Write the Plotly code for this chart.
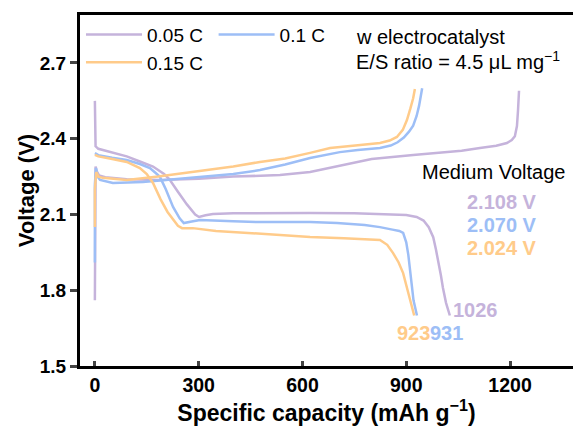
import plotly.graph_objects as go

# ---- data ----
rates = ["0.05 C", "0.1 C", "0.15 C"]
colors = ["#C5B3DB", "#9DBEF6", "#FFCB8A"]

dis_005_x = [0, 0, 2, 10, 40, 92, 130, 168, 200, 215, 240, 266, 290, 301, 320, 341, 400, 500, 622, 750, 850, 900, 930, 950, 965, 978, 986, 992, 1000, 1006, 1015, 1026]
dis_005_v = [2.55, 2.40, 2.37, 2.36, 2.35, 2.33, 2.31, 2.29, 2.26, 2.24, 2.19, 2.14, 2.10, 2.09, 2.097, 2.102, 2.105, 2.106, 2.106, 2.105, 2.102, 2.098, 2.09, 2.076, 2.05, 2.01, 1.96, 1.92, 1.86, 1.81, 1.75, 1.70]
chg_005_x = [0, 0, 2, 6, 12, 30, 92, 188, 300, 400, 535, 622, 728, 800, 920, 997, 1060, 1113, 1160, 1191, 1205, 1214, 1220, 1223, 1226]
chg_005_v = [1.76, 2.20, 2.29, 2.27, 2.255, 2.248, 2.24, 2.237, 2.242, 2.25, 2.256, 2.268, 2.30, 2.32, 2.336, 2.344, 2.352, 2.363, 2.372, 2.383, 2.395, 2.41, 2.45, 2.51, 2.59]

dis_01_x = [0, 10, 50, 92, 130, 159, 175, 188, 205, 226, 245, 257, 280, 304, 400, 477, 622, 700, 780, 824, 860, 880, 891, 900, 906, 911, 916, 921, 927, 931]
dis_01_v = [2.343, 2.335, 2.325, 2.316, 2.30, 2.284, 2.265, 2.249, 2.20, 2.13, 2.085, 2.066, 2.072, 2.078, 2.073, 2.07, 2.07, 2.066, 2.058, 2.05, 2.04, 2.035, 2.027, 1.99, 1.94, 1.89, 1.82, 1.76, 1.72, 1.70]
chg_01_x = [0, 0, 3, 8, 15, 52, 139, 283, 400, 477, 550, 622, 708, 760, 824, 855, 875, 893, 908, 920, 930, 937, 942, 946]
chg_01_v = [1.91, 2.22, 2.284, 2.25, 2.237, 2.225, 2.229, 2.245, 2.26, 2.276, 2.298, 2.324, 2.347, 2.355, 2.363, 2.373, 2.386, 2.405, 2.428, 2.452, 2.49, 2.53, 2.57, 2.60]

dis_015_x = [0, 10, 50, 92, 130, 150, 168, 190, 210, 226, 240, 252, 283, 350, 477, 622, 720, 824, 845, 862, 878, 891, 902, 911, 918, 923]
dis_015_v = [2.336, 2.33, 2.32, 2.308, 2.284, 2.26, 2.225, 2.16, 2.11, 2.078, 2.055, 2.046, 2.046, 2.035, 2.023, 2.011, 2.006, 1.999, 1.98, 1.947, 1.91, 1.868, 1.81, 1.76, 1.72, 1.70]
chg_015_x = [0, 0, 4, 10, 23, 92, 183, 283, 400, 477, 550, 622, 680, 760, 824, 852, 873, 890, 902, 912, 920, 925]
chg_015_v = [2.05, 2.20, 2.268, 2.25, 2.245, 2.237, 2.25, 2.268, 2.29, 2.308, 2.322, 2.344, 2.363, 2.374, 2.383, 2.393, 2.407, 2.435, 2.474, 2.52, 2.56, 2.597]

medium_v = ["2.108 V", "2.070 V", "2.024 V"]
capacities = ["1026", "931", "923"]

x_ticks = [0, 300, 600, 900, 1200]
y_ticks = [1.5, 1.8, 2.1, 2.4, 2.7]

series = [
    (dis_005_x, dis_005_v, chg_005_x, chg_005_v, "legend"),
    (dis_01_x, dis_01_v, chg_01_x, chg_01_v, "legend2"),
    (dis_015_x, dis_015_v, chg_015_x, chg_015_v, "legend"),
]

FONT = "Liberation Sans, Arial, sans-serif"
fig = go.Figure()
for i, (dx, dv, cx, cv, lg) in enumerate(series):
    fig.add_trace(go.Scatter(x=dx, y=dv, mode="lines", name=rates[i],
                             line=dict(color=colors[i], width=2.5),
                             legend=lg, legendgroup=rates[i], showlegend=True))
    fig.add_trace(go.Scatter(x=cx, y=cv, mode="lines", name=rates[i],
                             line=dict(color=colors[i], width=2.5),
                             legend=lg, legendgroup=rates[i], showlegend=False))

annotations = []
def txt(x, y, s, color="black", size=20, bold=False, xanchor="center"):
    annotations.append(dict(x=x, y=y, xref="x", yref="y", text=f"<b>{s}</b>" if bold else s,
                            showarrow=False, xanchor=xanchor, yanchor="middle",
                            font=dict(family=FONT, size=size, color=color)))

txt(748, 2.803, "w electrocatalyst", xanchor="left")
txt(748, 2.708, "E/S ratio = 4.5 μL mg<sup>−1</sup>", xanchor="left")
txt(1151, 2.268, "Medium Voltage")
txt(1178, 2.149, medium_v[0], colors[0], 20, True)
txt(1178, 2.058, medium_v[1], colors[1], 20, True)
txt(1178, 1.967, medium_v[2], colors[2], 20, True)
txt(1100, 1.722, capacities[0], colors[0], 20, True)
txt(1015, 1.631, capacities[1], colors[1], 20, True)
txt(921, 1.631, capacities[2], colors[2], 20, True)

fig.update_layout(
    width=573, height=428,
    margin=dict(l=80, r=0, t=15, b=62),
    plot_bgcolor="white", paper_bgcolor="white",
    font=dict(family=FONT, size=17, color="black"),
    annotations=annotations,
    legend=dict(x=0.002, y=0.998, xanchor="left", yanchor="top", bgcolor="rgba(0,0,0,0)",
                font=dict(family=FONT, size=19), tracegroupgap=0, itemwidth=56),
    legend2=dict(x=0.271, y=0.998, xanchor="left", yanchor="top", bgcolor="rgba(0,0,0,0)",
                 font=dict(family=FONT, size=19), tracegroupgap=0, itemwidth=56),
    xaxis=dict(range=[-43, 1382], tickvals=x_ticks, ticks="inside", ticklen=5, tickwidth=2.5,
               showline=True, linewidth=3, linecolor="black", mirror=True,
               showgrid=False, zeroline=False,
               tickfont=dict(family=FONT, size=19.5, color="black", weight="bold"),
               title=dict(text="<b>Specific capacity (mAh g<sup>−1</sup>)</b>", standoff=6,
                          font=dict(family=FONT, size=23))),
    yaxis=dict(range=[1.5, 2.89], tickvals=y_ticks, ticktext=[f"{v:.1f}" for v in y_ticks],
               ticks="outside", ticklen=7, tickwidth=2.5,
               showline=True, linewidth=3, linecolor="black", mirror=False,
               showgrid=False, zeroline=False,
               tickfont=dict(family=FONT, size=19, color="black", weight="bold"),
               title=dict(text="<b>Voltage (V)</b>", standoff=0,
                          font=dict(family=FONT, size=22))),
)

fig.write_html("out.html")
